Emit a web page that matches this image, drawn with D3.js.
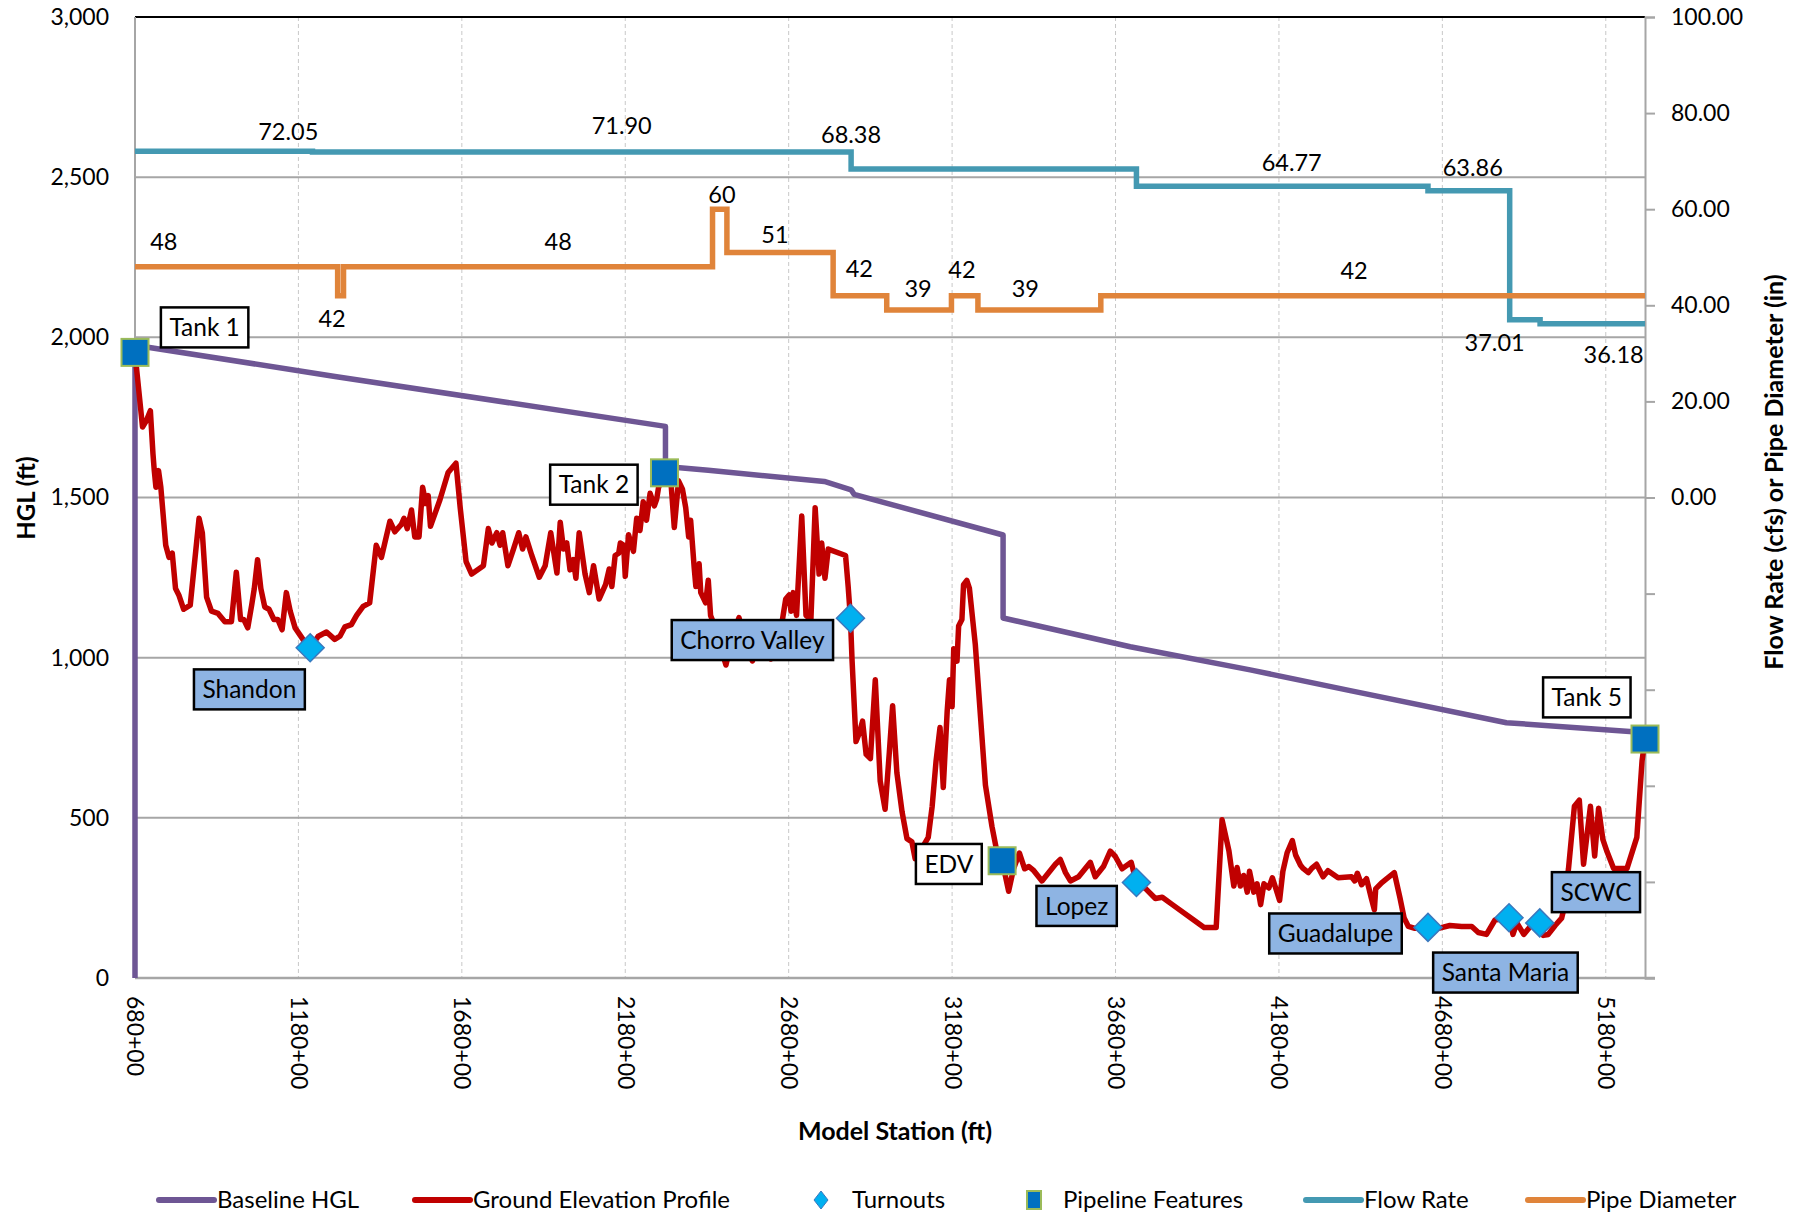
<!DOCTYPE html>
<html><head><meta charset="utf-8">
<script src="https://cdn.jsdelivr.net/npm/d3@7"></script>
<style>
body{margin:0;background:#fff}
svg{display:block}
text{font-family:Lato,'Open Sans',sans-serif;fill:#000}
</style>
</head><body>
<svg id="chart" width="1808" height="1219"></svg>
<script>
// ---------------- DATA ----------------
const xTicks = [680,1180,1680,2180,2680,3180,3680,4180,4680,5180];
const yTicks = [0,500,1000,1500,2000,2500,3000];
const rTicks = [-100,-80,-60,-40,-20,0,20,40,60,80,100];

// Baseline HGL (station in 100 ft, elevation ft)
const hglStation = [680,680,1292,2303,2303,2434,2789,2871,2880,3336,3336,3725,4092,4398,4876,5264,5300];
const hglValue   = [0,1975,1878,1722,1597,1585,1550,1524,1510,1383,1124,1034,962,897,797,769,766];

// Ground Elevation Profile
const groundStation = [680,683,703,715,727,735,739,744,752,759,774,784,794,804,814,829,849,876,886,899,914,934,955,975,990,1003,1013,1025,1037,1045,1055,1065,1077,1090,1105,1117,1130,1143,1155,1170,1196,1216,1241,1266,1291,1307,1322,1342,1358,1378,1398,1418,1434,1460,1475,1495,1503,1513,1526,1536,1549,1560,1570,1577,1584,1613,1638,1662,1675,1693,1710,1746,1761,1772,1787,1797,1805,1821,1838,1854,1866,1876,1894,1917,1935,1952,1971,1981,1991,2001,2011,2021,2029,2039,2057,2070,2083,2100,2120,2131,2139,2149,2160,2165,2175,2180,2190,2205,2215,2225,2235,2245,2256,2269,2276,2282,2294,2302,2320,2330,2343,2355,2365,2374,2380,2391,2396,2406,2411,2426,2434,2441,2456,2470,2488,2508,2528,2549,2569,2590,2610,2626,2646,2661,2671,2682,2687,2694,2704,2720,2733,2748,2761,2773,2781,2791,2801,2854,2862,2869,2874,2886,2896,2906,2917,2930,2945,2960,2975,2988,2998,3011,3027,3042,3057,3067,3085,3107,3119,3131,3143,3153,3165,3172,3180,3185,3195,3200,3210,3215,3225,3233,3251,3282,3302,3317,3333,3353,3368,3386,3402,3415,3430,3455,3496,3511,3527,3542,3567,3582,3603,3618,3643,3664,3679,3700,3728,3744,3772,3802,3823,3854,3915,3951,3981,3988,4006,4027,4042,4052,4062,4072,4083,4090,4103,4113,4124,4134,4149,4160,4170,4182,4192,4205,4221,4231,4246,4254,4270,4280,4295,4315,4330,4361,4402,4412,4420,4433,4448,4462,4472,4476,4494,4510,4533,4550,4563,4576,4596,4636,4668,4703,4739,4770,4790,4815,4841,4884,4896,4908,4929,4949,4978,4989,5004,5025,5045,5051,5066,5084,5099,5112,5133,5146,5158,5171,5184,5204,5245,5275,5291,5300];
const groundElev = [1950,1920,1720,1740,1771,1636,1584,1532,1584,1532,1351,1313,1326,1216,1196,1151,1164,1435,1390,1189,1145,1138,1112,1112,1267,1119,1119,1093,1164,1216,1306,1216,1158,1151,1119,1119,1087,1203,1145,1093,1054,1031,1067,1080,1057,1067,1096,1103,1132,1160,1171,1351,1313,1426,1393,1416,1435,1403,1461,1377,1377,1532,1481,1506,1410,1493,1578,1607,1468,1300,1261,1287,1403,1358,1390,1351,1390,1287,1339,1390,1339,1377,1319,1251,1287,1390,1264,1423,1339,1358,1274,1306,1248,1390,1261,1203,1287,1183,1229,1277,1222,1319,1326,1358,1351,1254,1384,1332,1435,1397,1487,1429,1513,1474,1494,1532,1558,1580,1545,1406,1552,1526,1468,1377,1429,1280,1222,1293,1203,1171,1242,1132,1093,1040,977,1067,1125,1041,990,1041,1041,996,1041,1119,1183,1196,1145,1203,1132,1442,1132,1119,1468,1261,1358,1248,1339,1319,1222,1123,990,738,764,802,698,685,931,615,527,705,850,641,518,435,425,372,400,439,536,678,782,595,834,931,847,1028,989,1099,1119,1228,1241,1216,1041,602,473,395,366,271,341,390,341,348,335,303,355,370,329,303,316,335,361,316,348,396,380,341,361,298,279,248,252,229,184,158,158,158,494,397,287,345,287,320,268,333,268,294,229,294,281,313,281,242,333,391,429,384,352,342,329,342,355,316,335,313,316,303,327,291,310,252,213,278,297,310,329,252,187,161,155,158,155,164,161,161,142,136,181,188,136,172,136,161,172,133,136,164,187,213,342,536,555,355,536,381,530,433,394,342,342,439,678,746];

// Turnouts
const turnoutName    = ["Shandon","Chorro Valley","Lopez","Guadalupe","Santa Maria","SCWC"];
const turnoutStation = [1216,2869,3744,4636,4884,4978];
const turnoutElev    = [1031,1123,298,158,188,172];

// Pipeline features
const featureName    = ["Tank 1","Tank 2","EDV","Tank 5"];
const featureStation = [680,2300,3333,5300];
const featureElev    = [1953,1577,366,746];

// Flow rate (cfs), step segments starting at station
const flowStation = [680,1223,2871,3744,4636,4886,4979,5300];
const flowValue   = [72.05,71.90,68.38,64.77,63.86,37.01,36.18,36.18];
const flowLabelText    = ["72.05","71.90","68.38","64.77","63.86","37.01","36.18"];
const flowLabelStation = [1149,2169,2871,4219,4773,4840,5204];
const flowLabelLevel   = [76.2,77.3,75.4,69.6,68.6,32.2,29.8];

// Pipe diameter (in), step segments starting at station
const pipeStation = [680,1300,1318,2447,2491,2816,2980,3178,3259,3635,5300];
const pipeValue   = [48,42,48,60,51,42,39,42,39,42,42];
const pipeLabelText    = ["48","42","48","60","51","42","39","42","39","42"];
const pipeLabelStation = [768,1283,1975,2476,2638,2896,3076,3210,3404,4410];
const pipeLabelLevel   = [53.2,37.2,53.2,62.9,54.7,47.5,43.5,47.3,43.5,47.1];

// Callout boxes (center in data coordinates)
const calloutText    = ["Tank 1","Shandon","Tank 2","Chorro Valley","EDV","Lopez","Guadalupe","Santa Maria","SCWC","Tank 5"];
const calloutStation = [893,1030,2084,2569,3170,3561,4353,4873,5150,5122];
const calloutElev    = [2031,901,1540,1055,356,225,139,17,268,876];
const calloutKind    = ["feature","turnout","feature","turnout","feature","turnout","turnout","turnout","turnout","feature"];

const legendNames = ["Baseline HGL","Ground Elevation Profile","Turnouts","Pipeline Features","Flow Rate","Pipe Diameter"];

// ---------------- STYLE ----------------
const C = {hgl:"#6E5694", ground:"#C00000", turn:"#00B0F0", turnStroke:"#3A78BE",
  feat:"#0070C0", featStroke:"#9BBB59", flow:"#4499B2", pipe:"#E0843A",
  grid:"#A6A6A6", vgrid:"#C8C8C8", box:"#8EB4E3"};

const svg = d3.select("#chart");
const m = {left:135, right:1645, top:17, bottom:978};
const x  = d3.scaleLinear().domain([680,5300]).range([m.left,m.right]);
const y  = d3.scaleLinear().domain([0,3000]).range([m.bottom,m.top]);
const yR = d3.scaleLinear().domain([-100,100]).range([m.bottom,m.top]);

// gridlines
const g = svg.append("g");
g.selectAll(".vg").data(xTicks.slice(1)).join("line")
  .attr("x1",d=>x(d)).attr("x2",d=>x(d)).attr("y1",m.top).attr("y2",m.bottom)
  .attr("stroke",C.vgrid).attr("stroke-width",1).attr("stroke-dasharray","4,3");
g.selectAll(".hg").data(yTicks.filter(d=>d>0&&d<3000)).join("line")
  .attr("x1",m.left).attr("x2",m.right).attr("y1",d=>y(d)).attr("y2",d=>y(d))
  .attr("stroke",C.grid).attr("stroke-width",2);
g.append("line").attr("x1",m.left).attr("x2",m.right).attr("y1",y(3000)).attr("y2",y(3000))
  .attr("stroke","#000").attr("stroke-width",2);
g.append("line").attr("x1",m.left).attr("x2",m.left).attr("y1",m.top).attr("y2",m.bottom)
  .attr("stroke",C.grid).attr("stroke-width",2);
g.append("line").attr("x1",m.left).attr("x2",m.right+10).attr("y1",m.bottom).attr("y2",m.bottom)
  .attr("stroke",C.grid).attr("stroke-width",2.5);

// left axis
const ax = svg.append("g").attr("transform",`translate(${m.left},0)`)
  .call(d3.axisLeft(y).tickValues(yTicks).tickSize(0).tickPadding(26).tickFormat(d3.format(",")));
ax.select(".domain").remove();
ax.selectAll("text").attr("font-size",23).attr("font-family","Lato").attr("fill","#000");

// right axis
const axr = svg.append("g").attr("transform",`translate(${m.right},0)`)
  .call(d3.axisRight(yR).tickValues(rTicks).tickSize(10).tickPadding(16)
    .tickFormat(d=> d>=0 ? d3.format(".2f")(d) : ""));
axr.select(".domain").attr("stroke",C.grid).attr("stroke-width",2);
axr.selectAll("line").attr("stroke",C.grid).attr("stroke-width",2);
axr.selectAll("text").attr("font-size",23).attr("font-family","Lato").attr("fill","#000");

// bottom axis
const axb = svg.append("g").attr("transform",`translate(0,${m.bottom})`)
  .call(d3.axisBottom(x).tickValues(xTicks).tickSize(0).tickFormat(d=>d+"+00"));
axb.select(".domain").remove();
axb.selectAll("text").attr("font-size",23).attr("font-family","Lato").attr("fill","#000")
  .attr("y",0).attr("x",0).attr("dy","0.35em").attr("text-anchor","start")
  .attr("transform","translate(0,18) rotate(90)");

// axis titles
svg.append("text").attr("transform","translate(27,498) rotate(-90)").attr("dy","0.35em")
  .attr("text-anchor","middle").attr("font-weight","bold").attr("font-size",24).text("HGL (ft)");
svg.append("text").attr("transform","translate(1774,472) rotate(-90)").attr("dy","0.35em")
  .attr("text-anchor","middle").attr("font-weight","bold").attr("font-size",25).text("Flow Rate (cfs) or Pipe Diameter (in)");
svg.append("text").attr("x",895).attr("y",1131).attr("dy","0.35em")
  .attr("text-anchor","middle").attr("font-weight","bold").attr("font-size",25).text("Model Station (ft)");

// step series
const stepLine = d3.line().x(d=>x(d[0])).y(d=>yR(d[1])).curve(d3.curveStepAfter);
svg.append("path").datum(flowStation.map((s,i)=>[s,flowValue[i]]))
  .attr("d",stepLine).attr("fill","none").attr("stroke",C.flow).attr("stroke-width",5.5);
svg.append("path").datum(pipeStation.map((s,i)=>[s,pipeValue[i]]))
  .attr("d",stepLine).attr("fill","none").attr("stroke",C.pipe).attr("stroke-width",5.5);

// HGL
const lineL = d3.line().x(d=>x(d[0])).y(d=>y(d[1]));
svg.append("path").datum(hglStation.map((s,i)=>[s,hglValue[i]]))
  .attr("d",lineL).attr("fill","none").attr("stroke",C.hgl).attr("stroke-width",5.5)
  .attr("stroke-linejoin","round");
// ground
svg.append("path").datum(groundStation.map((s,i)=>[s,groundElev[i]]))
  .attr("d",lineL).attr("fill","none").attr("stroke",C.ground).attr("stroke-width",5.5)
  .attr("stroke-linejoin","round");

// turnouts
svg.selectAll(".turn").data(turnoutStation).join("path")
  .attr("transform",(d,i)=>`translate(${x(d)},${y(turnoutElev[i])})`)
  .attr("d","M0,-14L14,0L0,14L-14,0Z").attr("fill",C.turn).attr("stroke",C.turnStroke).attr("stroke-width",1.5);
// features
svg.selectAll(".feat").data(featureStation).join("rect")
  .attr("x",d=>x(d)-13.5).attr("y",(d,i)=>y(featureElev[i])-13.5).attr("width",27).attr("height",27)
  .attr("fill",C.feat).attr("stroke",C.featStroke).attr("stroke-width",2);

// callouts
calloutText.forEach((t,i)=>{
  const cx = x(calloutStation[i]), cy = y(calloutElev[i]);
  const grp = svg.append("g");
  const rect = grp.append("rect");
  const tx = grp.append("text").attr("x",cx).attr("y",cy).attr("dy","0.35em")
    .attr("text-anchor","middle").attr("font-size",24.5).text(t);
  const w = tx.node().getComputedTextLength()+17, h=40;
  rect.attr("x",cx-w/2).attr("y",cy-h/2).attr("width",w).attr("height",h)
    .attr("fill",calloutKind[i]==="turnout"?C.box:"#fff").attr("stroke","#000").attr("stroke-width",2.5);
});

// data labels
svg.selectAll(".fl").data(flowLabelText).join("text")
  .attr("x",(d,i)=>x(flowLabelStation[i])).attr("y",(d,i)=>yR(flowLabelLevel[i])).attr("dy","0.35em")
  .attr("text-anchor","middle").attr("font-size",23.5).text(d=>d);
svg.selectAll(".pl").data(pipeLabelText).join("text")
  .attr("x",(d,i)=>x(pipeLabelStation[i])).attr("y",(d,i)=>yR(pipeLabelLevel[i])).attr("dy","0.35em")
  .attr("text-anchor","middle").attr("font-size",23.5).text(d=>d);

// legend
const ly = 1200;
const legendX = [159,415,821,1034,1306,1528];
const legendKind = ["line","line","diamond","square","line","line"];
const legendColor = [C.hgl,C.ground,C.turn,C.feat,C.flow,C.pipe];
legendNames.forEach((n,i)=>{
  const lx = legendX[i];
  let tx;
  if(legendKind[i]==="line"){
    svg.append("line").attr("x1",lx).attr("x2",lx+55).attr("y1",ly).attr("y2",ly)
      .attr("stroke",legendColor[i]).attr("stroke-width",6).attr("stroke-linecap","round");
    tx = lx+58;
  } else if(legendKind[i]==="diamond"){
    svg.append("path").attr("transform",`translate(${lx},${ly})`).attr("d","M0,-9L7,0L0,9L-7,0Z")
      .attr("fill",C.turn).attr("stroke",C.turnStroke).attr("stroke-width",1);
    tx = lx+31;
  } else {
    svg.append("rect").attr("x",lx-7).attr("y",ly-9).attr("width",14).attr("height",18)
      .attr("fill",C.feat).attr("stroke",C.featStroke).attr("stroke-width",2);
    tx = lx+29;
  }
  svg.append("text").attr("x",tx).attr("y",ly).attr("dy","0.35em").attr("font-size",24).text(n);
});
</script>
</body></html>
